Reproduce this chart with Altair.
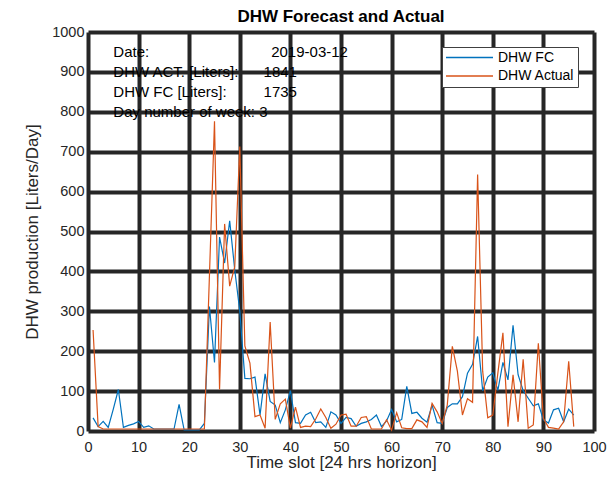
import altair as alt
import pandas as pd

# ---------------- data ----------------
slots = list(range(1, 97))

dhw_fc = [33, 11, 24, 9, 55, 104, 9, 14, 18, 24,
          9, 13, 5, 5, 5, 5, 5, 67, 3, 3,
          3, 3, 19, 312, 172, 486, 421, 527, 404, 300,
          132, 131, 135, 40, 143, 74, 65, 21, 53, 101,
          21, 19, 40, 47, 21, 23, 9, 48, 40, 19,
          34, 31, 12, 19, 23, 29, 40, 11, 25, 54,
          23, 29, 112, 44, 47, 32, 22, 65, 21, 19,
          59, 68, 68, 86, 145, 167, 237, 101, 135, 146,
          102, 172, 128, 265, 141, 101, 82, 63, 68, 28,
          20, 53, 57, 23, 55, 40]

dhw_act = [253, 11, 5, 5, 5, 5, 5, 5, 5, 5,
           5, 5, 5, 5, 5, 5, 5, 5, 5, 5,
           5, 5, 5, 390, 776, 104, 519, 363, 411, 713,
           213, 170, 36, 40, 7, 273, 29, 68, 80, 7,
           60, 9, 12, 11, 30, 55, 34, 7, 17, 40,
           42, 12, 12, 34, 36, 5, 5, 5, 28, 2,
           46, 8, 6, 6, 28, 23, 9, 69, 48, 19,
           65, 212, 150, 40, 81, 72, 643, 150, 33, 40,
           145, 246, 11, 141, 23, 180, 7, 15, 220, 32,
           9, 7, 5, 23, 175, 11]

series_names = ["DHW FC", "DHW Actual"]
series_colors = ["#0072BD", "#D95319"]

x_ticks = list(range(0, 101, 10))
y_ticks = list(range(0, 1001, 100))

info_labels = ["Date:", "DHW ACT. [Liters]:", "DHW FC [Liters]:", "Day number of week: 3"]
info_label_x = [5, 5, 5, 5]
info_y = [950, 900, 850, 800]
info_values = ["2019-03-12", "1841", "1735"]
info_value_x = [36.2, 34.7, 34.7]
info_value_y = [950, 900, 850]

# ---------------- tables ----------------
lines_df = pd.DataFrame({
    "x": slots + slots,
    "y": dhw_fc + dhw_act,
    "series": [series_names[0]] * len(slots) + [series_names[1]] * len(slots),
    "order": [0] * len(slots) + [1] * len(slots),
})
labels_df = pd.DataFrame({"x": info_label_x, "y": info_y, "text": info_labels})
values_df = pd.DataFrame({"x": info_value_x, "y": info_value_y, "text": info_values})

FONT = "Liberation Sans"

x_enc = alt.X(
    "x:Q",
    scale=alt.Scale(domain=[0, 100], nice=False),
    axis=alt.Axis(values=x_ticks, format="d", title="Time slot [24 hrs horizon]",
                  labelPadding=9, titlePadding=1),
)
y_enc = alt.Y(
    "y:Q",
    scale=alt.Scale(domain=[0, 1000], nice=False),
    axis=alt.Axis(values=y_ticks, format="d", title="DHW production [Liters/Day]",
                  labelPadding=4, titlePadding=10),
)

lines = alt.Chart(lines_df).mark_line(strokeWidth=1.2).encode(
    x=x_enc,
    y=y_enc,
    color=alt.Color(
        "series:N",
        scale=alt.Scale(domain=series_names, range=series_colors),
        sort=series_names,
        legend=alt.Legend(
            title=None, orient="none", legendX=354, legendY=15,
            symbolType="stroke", symbolSize=2209, symbolStrokeWidth=1.5,
            clipHeight=15, rowPadding=3.5, padding=3, labelOffset=4,
            columnPadding=0,
            labelFontSize=14, labelFont=FONT, labelColor="#000000",
            fillColor="#ffffff", strokeColor="#404040", zindex=2,
        ),
    ),
    detail="order:N",
)

label_text = alt.Chart(labels_df).mark_text(
    align="left", baseline="middle", fontSize=15, font=FONT, color="#000000"
).encode(x=x_enc, y=y_enc, text="text:N")

value_text = alt.Chart(values_df).mark_text(
    align="left", baseline="middle", fontSize=15, font=FONT, color="#000000"
).encode(x=x_enc, y=y_enc, text="text:N")

chart = alt.layer(label_text, value_text, lines).properties(
    width=506,
    height=399,
    autosize=alt.AutoSizeParams(type="none"),
    padding={"left": 80, "top": 24, "right": 13, "bottom": 42},
    title=alt.TitleParams("DHW Forecast and Actual", fontSize=17, fontWeight="bold",
                          font=FONT, color="#000000", anchor="middle", offset=-1.5),
).configure_view(
    stroke=None
).configure_axis(
    grid=True, gridColor="#262626", gridWidth=4, gridOpacity=1,
    domain=False, ticks=False, labelFlush=False, labelOverlap=False,
    labelFont=FONT, labelFontSize=14.5, labelColor="#262626",
    titleFont=FONT, titleFontSize=17, titleFontWeight="normal", titleColor="#262626",
    zindex=1,
)

chart.save("out.html", embed_options={"renderer": "svg", "actions": False})
